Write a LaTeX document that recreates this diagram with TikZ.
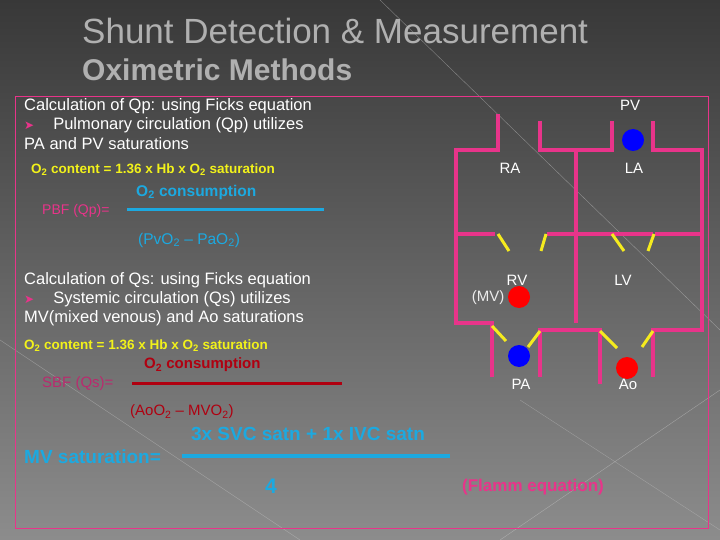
\documentclass[tikz,border=0pt]{standalone}
\usepackage{fontspec}
\setmainfont{Liberation Sans}
\newfontfamily\djv{DejaVu Sans}
\definecolor{wall}{HTML}{E8348A}
\definecolor{valve}{HTML}{F5EB1E}
\definecolor{cyanx}{HTML}{1CA9E0}
\definecolor{darkred}{HTML}{B00010}
\definecolor{titlec}{HTML}{B0B0B0}
\definecolor{yel}{HTML}{F2F21A}
\newcommand\bulx{\textcolor{wall}{\djv\fontsize{12}{12}\selectfont ➤}}
\begin{document}
\begin{tikzpicture}[x=1pt,y=-1pt,
  wl/.style={draw=wall,line width=3.5pt},
  vl/.style={draw=valve,line width=3pt},
  txt/.style={inner sep=0pt,font=\fontsize{16.5}{18}\selectfont,text=white},
  lab/.style={inner sep=0pt,font=\fontsize{15}{17}\selectfont,text=white},
  yl/.style={inner sep=0pt,font=\bfseries\fontsize{13.5}{15}\selectfont,text=yel},
  dot/.style={circle,minimum size=22pt,inner sep=0pt}]
\shade[top color=black!78,bottom color=black!45] (0,0) rectangle (720,540);
\useasboundingbox (0,0) rectangle (720,540);
\draw[white!60!gray,opacity=0.5] (380,0) -- (720,330);
\draw[white!60!gray,opacity=0.5] (0,340) -- (300,540);
\draw[white!60!gray,opacity=0.5] (500,540) -- (720,390);
\draw[white!60!gray,opacity=0.4] (520,400) -- (720,530);
\draw[wall,line width=0.8pt] (15,96) rectangle (708,528);
% titles
\node[anchor=west,inner sep=0pt,text=titlec,font=\fontsize{35}{37}\selectfont] (t1) at (82,31) {Shunt Detection \& Measurement};
\node[anchor=west,inner sep=0pt,text=titlec,font=\bfseries\fontsize{30}{32}\selectfont] (t2) at (82,70) {Oximetric Methods};
% Qp text
\node[txt,anchor=west] (q1) at (24,106) {Calculation of Qp: using Ficks equation};
\node[txt,anchor=west] (q2) at (24,125) {\bulx\hspace{19pt}Pulmonary circulation (Qp) utilizes};
\node[txt,anchor=west] (q3) at (24,144) {PA and PV saturations};
\node[yl,anchor=west] (y1) at (31,170) {O\textsubscript{2} content = 1.36 x Hb x O\textsubscript{2} saturation};
\node[inner sep=0pt,anchor=west,text=cyanx,font=\bfseries\fontsize{15.5}{17}\selectfont] (n1) at (136,192) {O\textsubscript{2} consumption};
\node[inner sep=0pt,anchor=west,text=wall,font=\fontsize{14}{16}\selectfont] (p1) at (42,211) {PBF (Qp)=};
\coordinate (f1a) at (127,210); \coordinate (f1b) at (324,210);
\draw[cyanx,line width=3pt] (f1a) -- (f1b);
\node[inner sep=0pt,anchor=west,text=cyanx,font=\fontsize{15.5}{17}\selectfont] (d1) at (138,240) {(PvO\textsubscript{2} -- PaO\textsubscript{2})};
% Qs text
\node[txt,anchor=west] (s1) at (24,280) {Calculation of Qs: using Ficks equation};
\node[txt,anchor=west] (s2) at (24,299) {\bulx\hspace{19pt}Systemic circulation (Qs) utilizes};
\node[txt,anchor=west] (s3) at (24,318) {MV(mixed venous) and Ao saturations};
\node[yl,anchor=west] (y2) at (24,346) {O\textsubscript{2} content = 1.36 x Hb x O\textsubscript{2} saturation};
\node[inner sep=0pt,anchor=west,text=darkred,font=\bfseries\fontsize{15}{17}\selectfont] (n2) at (144,365) {O\textsubscript{2} consumption};
\node[inner sep=0pt,anchor=west,text=wall!80!black,font=\fontsize{15}{17}\selectfont] (p2) at (42,384) {SBF (Qs)=};
\coordinate (f2a) at (132,383); \coordinate (f2b) at (342,383);
\draw[darkred,line width=3pt] (f2a) -- (f2b);
\node[inner sep=0pt,anchor=west,text=darkred,font=\fontsize{15}{17}\selectfont] (d2) at (130,412) {(AoO\textsubscript{2} -- MVO\textsubscript{2})};
% MV saturation
\node[inner sep=0pt,anchor=center,text=cyanx,font=\bfseries\fontsize{19}{21}\selectfont] (m1) at (308,434) {3x SVC satn + 1x IVC satn};
\node[inner sep=0pt,anchor=west,text=cyanx,font=\bfseries\fontsize{19}{21}\selectfont] (m0) at (24,457) {MV saturation=};
\coordinate (f3a) at (182,456); \coordinate (f3b) at (450,456);
\draw[cyanx,line width=3.5pt] (f3a) -- (f3b);
\node[inner sep=0pt,text=cyanx,font=\bfseries\fontsize{21}{23}\selectfont] (m2) at (271,486) {4};
\node[inner sep=0pt,text=wall,font=\bfseries\fontsize{17}{19}\selectfont] (fl) at (533,487) {(Flamm equation)};
% heart walls
\draw[wl] (498,114) -- (498,150) -- (456,150) -- (456,323) -- (492,323) -- (492,377);
\draw[wl] (540,121) -- (540,150) -- (612,150) -- (612,121);
\draw[wl] (576,150) -- (576,323);
\draw[wl] (653,121) -- (653,150) -- (702,150) -- (702,330) -- (653,330) -- (653,377);
\draw[wl] (456,234) -- (495,234);
\draw[wl] (547,234) -- (653,234);
\draw[wl] (655,234) -- (702,234);
\draw[wl] (540,377) -- (540,330) -- (600,330) -- (600,384);
% valves
\draw[vl] (498,234) -- (509,251);
\draw[vl] (546,234) -- (541,251);
\draw[vl] (612,234) -- (624,251);
\draw[vl] (654,234) -- (648,251);
\draw[vl] (492,326) -- (506,341);
\draw[vl] (540,331) -- (528,347);
\draw[vl] (600,331) -- (617,348);
\draw[vl] (653,331) -- (642,347);
% dots
\node[dot,fill=blue] (pvd) at (633,140) {};
\node[dot,fill=red] (rvd) at (519,297) {};
\node[dot,fill=blue] (pad) at (519,356) {};
\node[dot,fill=red] (aod) at (627,368) {};
% labels
\node[lab] (pv) at (630,105) {PV};
\node[lab] (ra) at (510,168) {RA};
\node[lab] (la) at (634,168) {LA};
\node[lab] (rv) at (517,280) {RV};
\node[lab] (lv) at (623,280) {LV};
\node[lab,text=white!85!gray] (mv) at (488,298) {(MV)};
\node[lab] (pa) at (521,384) {PA};
\node[lab] (ao) at (628,384) {Ao};
\end{tikzpicture}
\end{document}
